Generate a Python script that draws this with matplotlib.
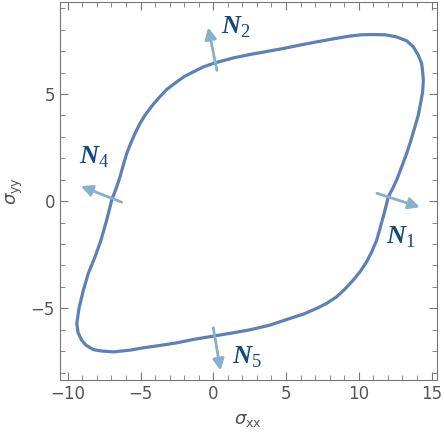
import numpy as np
import matplotlib
matplotlib.use('Agg')
import matplotlib.pyplot as plt
from matplotlib.ticker import MultipleLocator

plt.rcParams['mathtext.fontset'] = 'custom'
plt.rcParams['mathtext.rm'] = 'Liberation Serif'
plt.rcParams['mathtext.it'] = 'DejaVu Sans:italic'
plt.rcParams['mathtext.sf'] = 'DejaVu Sans'
plt.rcParams['mathtext.bfit'] = 'Liberation Serif:bold:italic'

# yield curve (sigma_xx, sigma_yy), counterclockwise
sxx = [12.03, 12.33, 12.6, 12.95, 13.29, 13.59, 13.86, 14.09, 14.25, 14.39,
       14.44, 14.39, 14.32, 14.09, 13.75, 13.29, 12.6, 11.8, 11.0, 10.2,
       9.4, 8.25, 7.11, 5.96, 4.81, 3.67, 2.52, 1.37, 0.12, -0.69,
       -1.37, -1.95, -2.52, -3.2, -3.78, -4.23, -4.69, -5.04, -5.38, -5.68,
       -5.95, -6.19, -6.41, -6.64, -6.98, -7.33, -7.72, -8.13, -8.59, -8.93,
       -9.23, -9.38, -9.3, -9.05, -8.75,
       -8.25, -7.79, -6.87, -5.73, -4.81, -3.66, -2.52, -1.37, 0.12, 1.37,
       2.52, 3.9, 5.27, 6.19, 7.11, 7.79, 8.48, 9.05, 9.62, 10.08,
       10.54, 10.89, 11.23, 11.46, 11.68, 11.92, 12.03]
syy = [0.2, 0.59, 0.98, 1.6, 2.22, 2.85, 3.47, 4.01, 4.56, 5.1,
       5.64, 6.03, 6.42, 6.81, 7.2, 7.48, 7.66, 7.76, 7.77, 7.76,
       7.7, 7.57, 7.43, 7.28, 7.12, 6.98, 6.84, 6.68, 6.45, 6.26,
       6.03, 5.83, 5.56, 5.21, 4.79, 4.43, 4.01, 3.62, 3.16, 2.69,
       2.22, 1.68, 1.13, 0.67, 0.05, -0.89, -1.82, -2.6, -3.37, -4.15,
       -5.0, -5.71, -6.12, -6.48, -6.72,
       -6.92, -6.98, -7.03, -6.95, -6.84, -6.73, -6.61, -6.45, -6.28, -6.14,
       -6.0, -5.78, -5.47, -5.27, -5.0, -4.77, -4.46, -4.1, -3.68, -3.3,
       -2.83, -2.36, -1.82, -1.27, -0.73, -0.11, 0.2]

# normal arrows: tail -> tip
arrow_tail = [(11.24, 0.37), (0.25, 6.1), (-6.3, -0.05), (0.0, -5.9)]
arrow_tip = [(14.2, -0.28), (-0.35, 8.1), (-9.1, 0.7), (0.5, -7.9)]
label_text = [r'$\mathbfit{N}_1$', r'$\mathbfit{N}_2$', r'$\mathbfit{N}_4$', r'$\mathbfit{N}_5$']
label_pos = [(12.9, -1.65), (1.55, 8.1), (-8.15, 2.05), (2.35, -7.25)]

fig = plt.figure(figsize=(4.44, 4.37), dpi=100)
ax = fig.add_axes([0.135, 0.130, 0.849, 0.865])

ax.plot(sxx, syy, color='#5E81B5', lw=2.3, solid_joinstyle='round', zorder=2)

for tail, tip in zip(arrow_tail, arrow_tip):
    ax.annotate('', xy=tip, xytext=tail,
                arrowprops=dict(arrowstyle='-|>', color='#88AFCB', lw=2,
                                mutation_scale=17, shrinkA=0, shrinkB=0),
                zorder=3)

for txt, pos in zip(label_text, label_pos):
    ax.text(pos[0], pos[1], txt, color='#11497D', fontsize=19,
            ha='center', va='center')

ax.set_xlim(-10.54, 15.37)
ax.set_ylim(-8.35, 9.28)
ax.xaxis.set_major_locator(MultipleLocator(5))
ax.xaxis.set_minor_locator(MultipleLocator(1))
ax.yaxis.set_major_locator(MultipleLocator(5))
ax.yaxis.set_minor_locator(MultipleLocator(1))
ax.tick_params(which='both', direction='in', top=True, right=True,
               color='#777777', labelcolor='#555555', labelsize=12)
ax.tick_params(which='major', length=6, width=0.8)
ax.tick_params(which='minor', length=3.5, width=0.6)
for s in ax.spines.values():
    s.set_color('#777777')

ax.set_xlabel(r'$\sigma_{\mathsf{xx}}$', color='#555555', fontsize=13, labelpad=6)
ax.set_ylabel(r'$\sigma_{\mathsf{yy}}$', color='#555555', fontsize=13, labelpad=4)

fig.savefig('out.png', dpi=100)
